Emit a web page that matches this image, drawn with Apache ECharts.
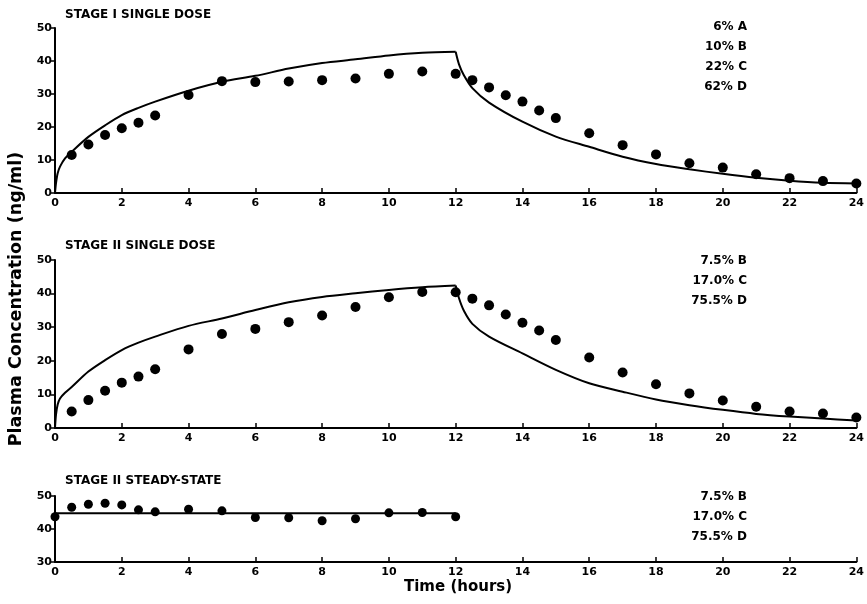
<!DOCTYPE html>
<html>
<head>
<meta charset="utf-8">
<script src="https://cdn.jsdelivr.net/npm/echarts@6/dist/echarts.min.js"></script>
<style>
  html, body { margin: 0; padding: 0; background: #fff; }
  #chart { width: 867px; height: 604px; }
</style>
</head>
<body>
<div id="chart"></div>
<script>
  // sampling times (hours)
  var timesFull = [0.5, 1, 1.5, 2, 2.5, 3, 4, 5, 6, 7, 8, 9, 10, 11, 12, 12.5, 13, 13.5, 14, 14.5, 15, 16, 17, 18, 19, 20, 21, 22, 23, 24];
  var timesSteady = [0, 0.5, 1, 1.5, 2, 2.5, 3, 4, 5, 6, 7, 8, 9, 10, 11, 12];

  // observed concentrations (ng/ml)
  var stage1Obs = [11.5, 14.7, 17.6, 19.6, 21.3, 23.5, 29.7, 33.9, 33.6, 33.8, 34.2, 34.7, 36.1, 36.8, 36.1, 34.2, 32.0, 29.6, 27.7, 25.0, 22.7, 18.1, 14.5, 11.7, 9.0, 7.7, 5.7, 4.5, 3.6, 2.9];
  var stage2Obs = [4.9, 8.3, 11.1, 13.5, 15.3, 17.5, 23.4, 28.0, 29.5, 31.5, 33.5, 36.0, 38.9, 40.5, 40.4, 38.5, 36.5, 33.8, 31.3, 29.0, 26.2, 21.0, 16.5, 13.0, 10.3, 8.2, 6.3, 4.9, 4.3, 3.1];
  var steadyObs = [43.7, 46.6, 47.5, 47.8, 47.3, 45.8, 45.2, 46.0, 45.5, 43.5, 43.4, 42.5, 43.1, 44.9, 45.0, 43.7];

  // predicted curves (rising part, then decay)
  var riseTimes = [0, 0.03, 0.08, 0.15, 0.3, 0.5, 1, 1.5, 2, 2.5, 3, 4, 5, 6, 7, 8, 9, 10, 11, 12];
  var stage1Rise = [0, 3, 6, 8, 10.5, 12.5, 17, 20.5, 23.6, 25.8, 27.7, 31.0, 33.7, 35.5, 37.7, 39.4, 40.5, 41.7, 42.5, 42.8];
  var stage2Rise = [0, 4, 7, 8.8, 10.5, 12.2, 16.8, 20.2, 23.2, 25.4, 27.2, 30.4, 32.6, 35.1, 37.4, 39.0, 40.1, 41.1, 41.9, 42.4];
  var decayTimes = [12, 12.1, 12.25, 12.5, 13, 14, 15, 16, 17, 18, 19, 20, 21, 22, 23, 24];
  var stage1Decay = [42.8, 39.0, 35.6, 31.8, 27.4, 21.6, 17.1, 14.0, 11.0, 8.8, 7.2, 5.8, 4.6, 3.7, 3.1, 2.9];
  var stage2Decay = [42.4, 38.6, 34.8, 31.0, 27.2, 22.2, 17.3, 13.3, 10.8, 8.5, 6.8, 5.4, 4.2, 3.4, 2.8, 2.2];
  var steadyTimes = [0, 12];
  var steadyFit = [44.8, 44.8];

  var panelTitles = ['STAGE I SINGLE DOSE', 'STAGE II SINGLE DOSE', 'STAGE II STEADY-STATE'];
  var notes1 = ['6% A', '10% B', '22% C', '62% D'];
  var notes2 = ['7.5% B', '17.0% C', '75.5% D'];
  var notes3 = ['7.5% B', '17.0% C', '75.5% D'];

  function pairs(xs, ys) {
    var out = [];
    for (var i = 0; i < xs.length; i++) out.push([xs[i], ys[i]]);
    return out;
  }

  var font = 'DejaVu Sans';

  function xAxis(idx) {
    return {
      type: 'value', gridIndex: idx, min: 0, max: 24, interval: 2,
      axisLine: { lineStyle: { color: '#000', width: 2 } },
      axisTick: { inside: true, length: 5, lineStyle: { color: '#000', width: 1.5 } },
      axisLabel: { color: '#000', fontFamily: font, fontWeight: 'bold', fontSize: 11, margin: 5 },
      splitLine: { show: false }
    };
  }
  function yAxis(idx, min, max) {
    return {
      type: 'value', gridIndex: idx, min: min, max: max, interval: 10,
      axisLine: { show: true, lineStyle: { color: '#000', width: 2 } },
      axisTick: { show: true, inside: false, length: 4, lineStyle: { color: '#000', width: 1.5 } },
      axisLabel: { color: '#000', fontFamily: font, fontWeight: 'bold', fontSize: 11, margin: 3 },
      splitLine: { show: false }
    };
  }
  function dots(idx, xs, ys, size) {
    return {
      type: 'scatter', xAxisIndex: idx, yAxisIndex: idx, data: pairs(xs, ys),
      symbol: 'circle', symbolSize: size, itemStyle: { color: '#000', opacity: 1 }, z: 3
    };
  }
  function curve(idx, xs, ys) {
    return {
      type: 'line', xAxisIndex: idx, yAxisIndex: idx, data: pairs(xs, ys),
      showSymbol: false, smooth: 0.3,
      lineStyle: { color: '#000', width: 2 }, z: 2
    };
  }
  function noteBlock(lines, top) {
    var out = [];
    for (var i = 0; i < lines.length; i++) {
      out.push({
        type: 'text', right: 867 - 747, top: top + i * 20,
        style: { text: lines[i], fill: '#000', font: 'bold 12px "DejaVu Sans"', textAlign: 'right' }
      });
    }
    return out;
  }

  var chart = echarts.init(document.getElementById('chart'));
  chart.setOption({
    backgroundColor: '#fff',
    animation: false,
    grid: [
      { left: 55, right: 7, top: 28, height: 165 },
      { left: 55, right: 7, top: 260, height: 168 },
      { left: 55, right: 7, top: 496, height: 66 }
    ],
    xAxis: [xAxis(0), xAxis(1), xAxis(2)],
    yAxis: [yAxis(0, 0, 50), yAxis(1, 0, 50), yAxis(2, 30, 50)],
    series: [
      curve(0, riseTimes, stage1Rise),
      curve(0, decayTimes, stage1Decay),
      dots(0, timesFull, stage1Obs, 10),
      curve(1, riseTimes, stage2Rise),
      curve(1, decayTimes, stage2Decay),
      dots(1, timesFull, stage2Obs, 10),
      curve(2, steadyTimes, steadyFit),
      dots(2, timesSteady, steadyObs, 9)
    ],
    graphic: [
      { type: 'text', left: 65, top: 9, style: { text: panelTitles[0], fill: '#000', font: 'bold 12px "DejaVu Sans"' } },
      { type: 'text', left: 65, top: 240, style: { text: panelTitles[1], fill: '#000', font: 'bold 12px "DejaVu Sans"' } },
      { type: 'text', left: 65, top: 475, style: { text: panelTitles[2], fill: '#000', font: 'bold 12px "DejaVu Sans"' } },
      {
        type: 'text', x: 16, y: 299, rotation: Math.PI / 2,
        style: {
          text: 'Plasma Concentration (ng/ml)', fill: '#000', font: 'bold 17.5px "DejaVu Sans"',
          textAlign: 'center', textVerticalAlign: 'middle'
        }
      },
      { type: 'text', left: 404, top: 580, style: { text: 'Time (hours)', fill: '#000', font: 'bold 15px "DejaVu Sans"' } }
    ].concat(noteBlock(notes1, 21), noteBlock(notes2, 255), noteBlock(notes3, 491))
  });
</script>
</body>
</html>
